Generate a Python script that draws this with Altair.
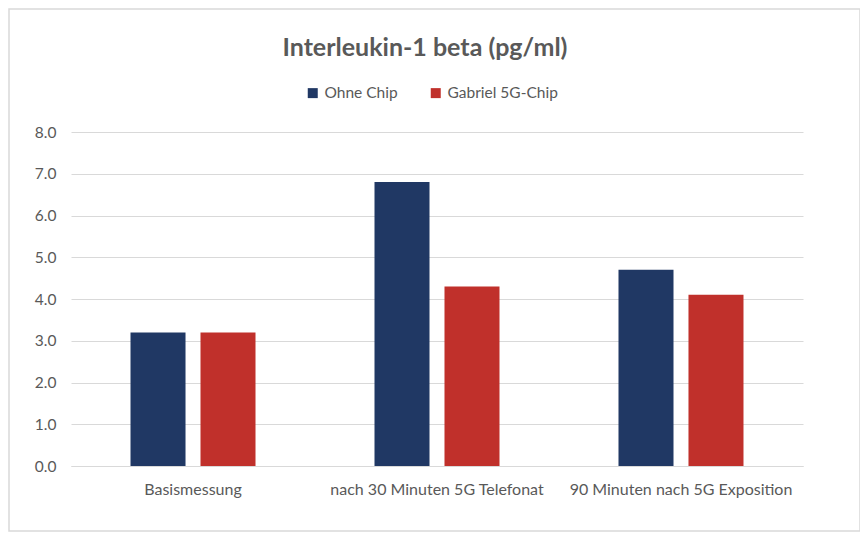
import altair as alt
import pandas as pd

categories = ["Basismessung", "nach 30 Minuten 5G Telefonat", "90 Minuten nach 5G Exposition"]
series = ["Ohne Chip", "Gabriel 5G-Chip"]
ohne_chip = [3.2, 6.8, 4.7]
gabriel_chip = [3.2, 4.3, 4.1]
colors = ["#203864", "#C0302B"]

rows = []
for c, a, b in zip(categories, ohne_chip, gabriel_chip):
    rows.append({"cat": c, "series": series[0], "value": a})
    rows.append({"cat": c, "series": series[1], "value": b})
df = pd.DataFrame(rows)

FONT = "Lato"
GREY = "#595959"

bars = alt.Chart(df).mark_bar().encode(
    x=alt.X("cat:N", sort=categories, title=None,
            scale=alt.Scale(paddingInner=0.4877, paddingOuter=0.2439),
            axis=alt.Axis(labelAngle=0, ticks=False, domain=True, domainColor="#d9d9d9",
                          labelPadding=15, labelFontSize=16, labelColor=GREY, labelFont=FONT,
                          labelLimit=0)),
    xOffset=alt.XOffset("series:N", sort=series,
                        scale=alt.Scale(paddingInner=0.214, paddingOuter=0)),
    y=alt.Y("value:Q", title=None,
            scale=alt.Scale(domain=[0, 8]),
            axis=alt.Axis(values=[0, 1, 2, 3, 4, 5, 6, 7, 8], format=".1f", ticks=False,
                          domain=False, gridColor="#d9d9d9", labelPadding=15,
                          labelFontSize=15.5, labelColor=GREY, labelFont=FONT)),
    color=alt.Color("series:N", sort=series,
                    scale=alt.Scale(domain=series, range=colors),
                    legend=alt.Legend(title=None, orient="none", direction="horizontal",
                                      legendX=234, legendY=-47, symbolType="square",
                                      symbolSize=100, symbolStrokeWidth=0,
                                      labelFontSize=15.5, labelColor=GREY, labelFont=FONT,
                                      columnPadding=30, labelOffset=4)),
)

border = alt.Chart(pd.DataFrame({"k": [0]})).mark_rect(
    fill=None, stroke="#d9d9d9", strokeWidth=1.5
).encode(
    x=alt.value(-62), x2=alt.value(789), y=alt.value(-123), y2=alt.value(399)
)

chart = alt.layer(border, bars).properties(
    width=732, height=334,
    background="white",
    autosize=alt.AutoSizeParams(type="none"),
    padding={"left": 63, "top": 124, "right": 57, "bottom": 66},
    title=alt.TitleParams("Interleukin-1 beta (pg/ml)", anchor="middle", frame="group",
                          offset=-53, dx=-12,
                          fontSize=25, fontWeight="bold", color=GREY, font=FONT),
).configure_view(stroke=None)

chart.save("out.html", embed_options={"renderer": "svg", "actions": False})
